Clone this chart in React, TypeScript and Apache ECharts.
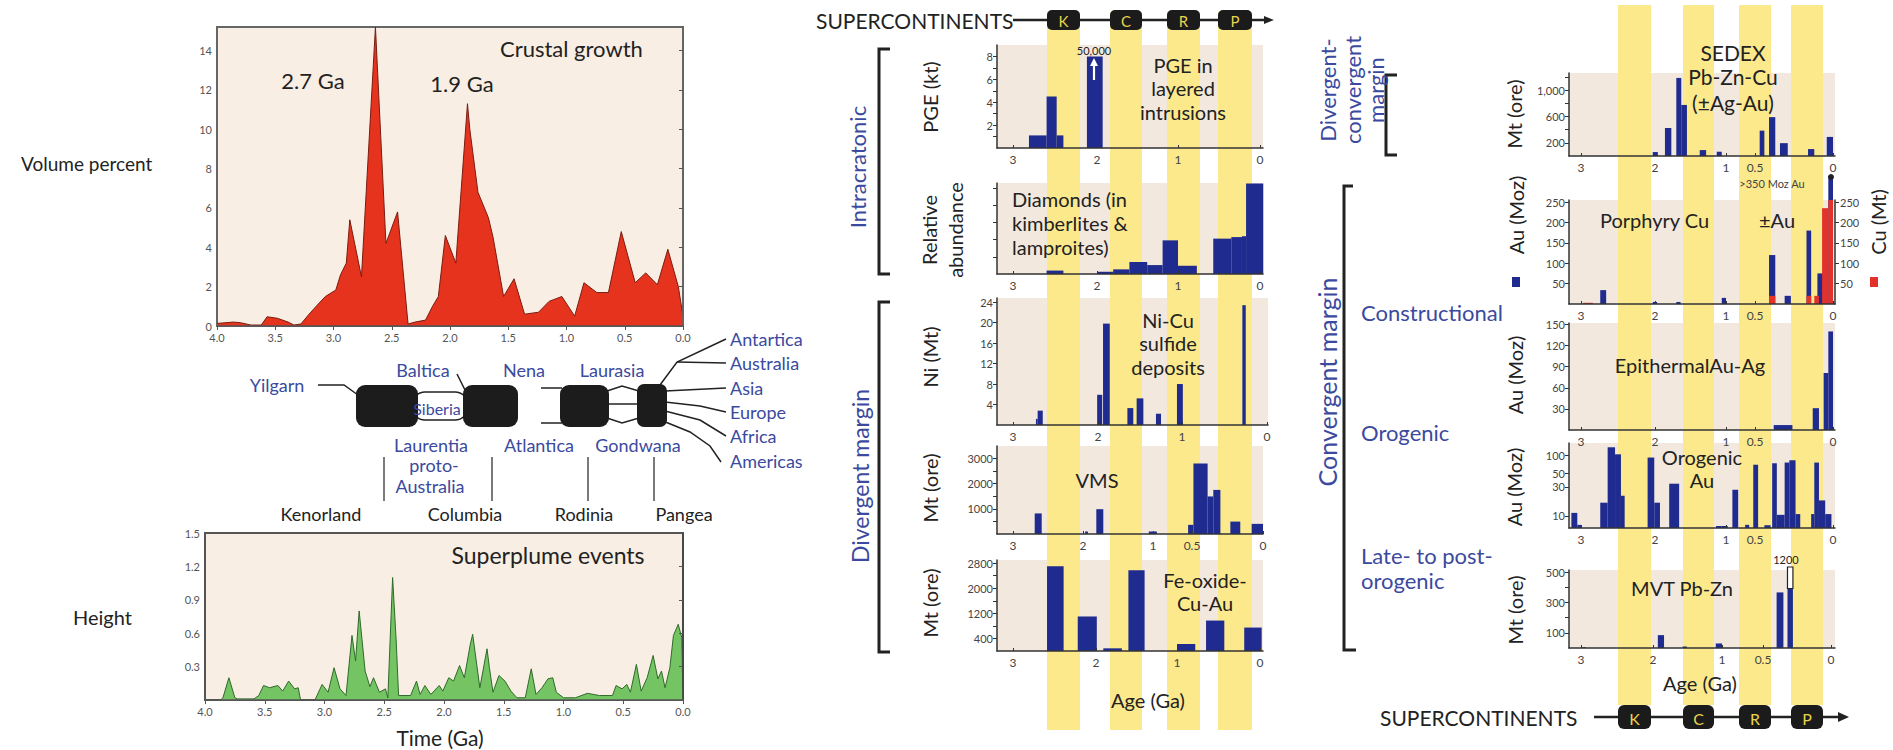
import React, { useEffect, useRef } from "react";
import * as echarts from "echarts";

const W = 1893;
const H = 750;
const FONT = "Lato, 'Noto Sans', sans-serif";
const BLUE_TXT = "#3B4A9E";
const BAR = "#1F2B8E";
const CU_RED = "#E2322A";
const PANEL_BG = "#F2E8DE";
const LEFT_BG = "#F8EEE3";
const STRIPE = "#FBE98C";
const INK = "#222";

// ---------------- DATA ----------------
// Crustal growth: volume percent vs age (Ga)
const crustAge = [4.0, 3.86, 3.8, 3.71, 3.62, 3.57, 3.48, 3.39, 3.34, 3.28, 3.21, 3.14, 3.07, 2.98, 2.94, 2.89, 2.86, 2.76, 2.64, 2.55, 2.45, 2.36, 2.3, 2.21, 2.15, 2.1, 2.04, 1.95, 1.85, 1.83, 1.76, 1.67, 1.63, 1.54, 1.45, 1.36, 1.24, 1.15, 1.04, 0.93, 0.85, 0.74, 0.64, 0.53, 0.41, 0.32, 0.22, 0.13, 0.04, 0.0];
const crustVolume = [0.13, 0.2, 0.17, 0.05, 0.05, 0.47, 0.39, 0.2, 0.05, 0.1, 0.6, 1.06, 1.5, 1.83, 2.6, 3.2, 5.4, 2.5, 15.2, 4.2, 5.8, 0.1, 0.2, 0.3, 1.0, 1.5, 4.6, 3.2, 11.3, 10.0, 6.8, 5.5, 4.5, 1.5, 2.4, 0.6, 0.7, 1.25, 1.5, 0.5, 2.2, 1.7, 1.7, 4.8, 2.2, 2.7, 2.1, 3.9, 2.0, 0.5];

// Superplume events: height vs age (Ga)
const plumeAge = [4.0, 3.87, 3.85, 3.8, 3.75, 3.73, 3.59, 3.55, 3.51, 3.46, 3.39, 3.35, 3.3, 3.25, 3.22, 3.2, 3.08, 3.02, 2.97, 2.92, 2.87, 2.82, 2.77, 2.74, 2.71, 2.66, 2.62, 2.59, 2.54, 2.49, 2.47, 2.43, 2.4, 2.38, 2.28, 2.23, 2.2, 2.16, 2.11, 2.04, 2.01, 1.96, 1.92, 1.87, 1.83, 1.78, 1.76, 1.73, 1.7, 1.64, 1.62, 1.59, 1.54, 1.49, 1.44, 1.39, 1.32, 1.27, 1.23, 1.18, 1.13, 1.09, 1.06, 1.0, 0.9, 0.8, 0.7, 0.59, 0.56, 0.51, 0.47, 0.44, 0.39, 0.35, 0.3, 0.25, 0.21, 0.18, 0.15, 0.11, 0.08, 0.04, 0.01, 0.0];
const plumeHeight = [0, 0, 0.02, 0.2, 0.02, 0.01, 0.01, 0.04, 0.13, 0.11, 0.13, 0.08, 0.17, 0.1, 0.11, 0, 0, 0.14, 0.07, 0.29, 0.1, 0.04, 0.58, 0.35, 0.8, 0.26, 0.12, 0.2, 0.07, 0.1, 0.02, 1.1, 0.53, 0.04, 0.04, 0.17, 0.05, 0.13, 0.05, 0.13, 0.08, 0.2, 0.17, 0.31, 0.2, 0.5, 0.59, 0.35, 0.11, 0.46, 0.29, 0.07, 0.22, 0.17, 0.08, 0.02, 0.02, 0.28, 0.05, 0.11, 0.19, 0.2, 0.07, 0.02, 0.02, 0.06, 0.04, 0.04, 0.13, 0.1, 0.14, 0.07, 0.32, 0.08, 0.2, 0.4, 0.19, 0.26, 0.11, 0.29, 0.58, 0.68, 0.56, 0];

// Deposit histograms: [older age, younger age, value] (Ga)
const pgeBars = [[2.81, 2.6, 1.1], [2.6, 2.48, 4.5], [2.48, 2.4, 1.1], [2.12, 1.93, 8.0]];
const diamondBars = [[2.6, 2.4, 0.2], [2.0, 1.8, 0.13], [1.8, 1.6, 0.27], [1.6, 1.38, 0.7], [1.38, 1.19, 0.52], [1.19, 1.0, 1.96], [1.0, 0.77, 0.48], [0.57, 0.35, 2.06], [0.35, 0.22, 2.15], [0.22, 0.17, 2.2], [0.17, -0.04, 5.27]];
const niBars = [[2.73, 2.71, 1.2], [2.71, 2.65, 2.8], [2.01, 1.95, 5.9], [1.94, 1.86, 19.8], [1.65, 1.58, 3.3], [1.54, 1.46, 5.2], [1.31, 1.25, 2.2], [1.06, 0.99, 8.0], [0.29, 0.25, 23.4]];
const vmsBars = [[2.69, 2.59, 818], [1.97, 1.93, 100], [1.81, 1.71, 987], [1.06, 0.95, 100], [0.55, 0.49, 364], [0.49, 0.39, 2806], [0.39, 0.35, 1494], [0.35, 0.3, 1754], [0.23, 0.16, 494], [0.08, 0.0, 403]];
const feBars = [[2.59, 2.39, 2700], [2.22, 1.99, 1100], [1.91, 1.68, 85], [1.6, 1.4, 2570], [1.0, 0.78, 224], [0.65, 0.43, 970], [0.19, -0.02, 747]];
const sedexBars = [[2.03, 1.96, 60], [1.86, 1.77, 425], [1.7, 1.63, 1185], [1.63, 1.55, 775], [1.37, 1.28, 90], [1.13, 1.06, 65], [0.47, 0.44, 385], [0.41, 0.37, 590], [0.34, 0.29, 195], [0.16, 0.12, 105], [0.04, 0.0, 290]];
const porphyryAuBars = [[2.74, 2.66, 34], [2.03, 1.97, 5], [1.7, 1.64, 5], [1.06, 1.0, 15], [0.41, 0.37, 120], [0.31, 0.27, 20], [0.17, 0.14, 180], [0.1, 0.06, 75], [0.06, 0.03, 95], [0.03, 0.0, 400]];
const porphyryCuBars = [[2.97, 2.84, 3], [0.41, 0.37, 20], [0.17, 0.14, 20], [0.12, 0.09, 20], [0.07, 0.03, 235], [0.03, 0.0, 262]];
const epithermalBars = [[0.38, 0.26, 7], [0.13, 0.09, 31], [0.06, 0.03, 81], [0.03, 0.0, 140]];
const orogenicBars = [[3.13, 3.05, 11.2], [3.05, 3.0, 7.1], [2.74, 2.64, 16.5], [2.64, 2.54, 136], [2.54, 2.46, 104], [2.46, 2.41, 21.5], [2.1, 2.01, 92], [2.01, 1.93, 16.5], [1.8, 1.66, 34], [1.14, 1.06, 6.8], [1.06, 0.97, 6.8], [0.89, 0.79, 27], [0.67, 0.6, 7.1], [0.53, 0.48, 70], [0.44, 0.4, 7], [0.39, 0.36, 74], [0.36, 0.31, 10.4], [0.31, 0.28, 76], [0.28, 0.24, 83], [0.24, 0.21, 10.7], [0.14, 0.12, 10.7], [0.12, 0.09, 76], [0.09, 0.05, 18], [0.05, 0.01, 10.7]];
const mvtBars = [[3.0, 2.93, 5], [1.93, 1.84, 85], [1.57, 1.51, 10], [1.09, 1.0, 30], [0.4, 0.35, 367], [0.32, 0.28, 393]];
const mvtOffscale = [[0.32, 0.28, 393, 1200]];

// Axis tick labels
const leftAgeTicks = [4.0, 3.5, 3.0, 2.5, 2.0, 1.5, 1.0, 0.5, 0.0];
const crustTicks = [0, 2, 4, 6, 8, 10, 12, 14];
const plumeTicks = [0.3, 0.6, 0.9, 1.2, 1.5];

// ---------------- LAYOUT (axis calibration: age -> pixel) ----------------
const kMid = [[3, 1013], [2, 1097], [1, 1178], [0, 1260]];
const kNi = [[3, 1013], [2, 1098], [1, 1182], [0, 1267]];
const kVms = [[3, 1013], [2, 1083], [1, 1153], [0.5, 1192], [0, 1263]];
const kFe = [[3, 1013], [2, 1096], [1, 1177], [0, 1260]];
const kRight = [[3, 1581], [2, 1655], [1, 1726], [0.5, 1755], [0, 1833]];
const kMvt = [[3, 1581], [2, 1653], [1, 1722], [0.5, 1763], [0, 1831]];

function ageToPx(knots: number[][], age: number) {
  let i = 0;
  while (i < knots.length - 2 && age < knots[i + 1][0]) i++;
  const [a0, p0] = knots[i];
  const [a1, p1] = knots[i + 1];
  return p0 + ((age - a0) * (p1 - p0)) / (a1 - a0);
}

type Panel = {
  key: string; left: number; right: number; top: number; bottom: number; knots: number[][];
  yMin: number; yMax: number; labels: number[]; ticks: number[]; log?: boolean;
};

const panels: Panel[] = [
  { key: "pge", left: 997, right: 1263, top: 45, bottom: 148, knots: kMid, yMin: 0, yMax: 9, labels: [2, 4, 6, 8], ticks: [1, 2, 3, 4, 5, 6, 7, 8] },
  { key: "dia", left: 997, right: 1263, top: 183, bottom: 274, knots: kMid, yMin: 0, yMax: 5.3, labels: [], ticks: [1, 2, 3, 4, 5] },
  { key: "ni", left: 997, right: 1268, top: 298, bottom: 425, knots: kNi, yMin: 0, yMax: 24.8, labels: [4, 8, 12, 16, 20, 24], ticks: [4, 8, 12, 16, 20, 24] },
  { key: "vms", left: 997, right: 1263, top: 446, bottom: 534, knots: kVms, yMin: 0, yMax: 3500, labels: [1000, 2000, 3000], ticks: [500, 1000, 1500, 2000, 2500, 3000] },
  { key: "fe", left: 997, right: 1263, top: 560, bottom: 651, knots: kFe, yMin: 0, yMax: 2900, labels: [400, 1200, 2000, 2800], ticks: [400, 800, 1200, 1600, 2000, 2400, 2800] },
  { key: "sedex", left: 1569, right: 1835, top: 73, bottom: 156, knots: kRight, yMin: 0, yMax: 1260, labels: [200, 600, 1000], ticks: [200, 400, 600, 800, 1000, 1200] },
  { key: "por", left: 1569, right: 1835, top: 200, bottom: 304, knots: kRight, yMin: 0, yMax: 255, labels: [50, 100, 150, 200, 250], ticks: [50, 100, 150, 200, 250] },
  { key: "epi", left: 1569, right: 1835, top: 323, bottom: 430, knots: kRight, yMin: 0, yMax: 152, labels: [30, 60, 90, 120, 150], ticks: [30, 60, 90, 120, 150] },
  { key: "oro", left: 1569, right: 1835, top: 443, bottom: 528, knots: kRight, yMin: 6.3, yMax: 160, labels: [10, 30, 50, 100, 150], ticks: [10, 30, 50, 100, 150], log: true },
  { key: "mvt", left: 1569, right: 1835, top: 570, bottom: 648, knots: kMvt, yMin: 0, yMax: 515, labels: [100, 300, 500], ticks: [100, 200, 300, 400, 500] },
];
const P: Record<string, number> = {};
panels.forEach((p, i) => (P[p.key] = i + 2));

// ---------------- HELPERS ----------------
function T(x: number, y: number, text: string, o: any = {}) {
  const align = o.align ?? "center";
  return {
    type: "text", x, y, rotation: o.rot ?? 0, z: o.z ?? 30, silent: true,
    style: {
      text, fill: o.color ?? INK, fontSize: o.size ?? 16, fontFamily: FONT, fontWeight: o.weight ?? "normal",
      align, verticalAlign: "middle", textAlign: align, textVerticalAlign: "middle",
    },
  };
}
function L(points: number[][], o: any = {}) {
  return { type: "polyline", z: o.z ?? 25, silent: true, shape: { points }, style: { stroke: o.color ?? INK, lineWidth: o.w ?? 1.5, fill: null } };
}
function R(x: number, y: number, w: number, h: number, fill: string, o: any = {}) {
  return { type: "rect", z: o.z ?? 25, silent: true, shape: { x, y, width: w, height: h, r: o.r ?? 0 }, style: { fill, stroke: o.stroke ?? null, lineWidth: o.lw ?? 0 } };
}

function barSeries(panelKey: string, bars: number[][], fill: string, o: any = {}) {
  const idx = P[panelKey];
  const p = panels[idx - 2];
  const data = bars.map((b) => {
    const lo = b.length > 3 ? b[2] : p.yMin;
    const hi = b.length > 3 ? b[3] : b[2];
    return [ageToPx(p.knots, b[0]), ageToPx(p.knots, b[1]), lo, hi];
  });
  return {
    type: "custom", xAxisIndex: idx, yAxisIndex: o.yAxisIndex ?? idx, z: o.z ?? 4, silent: true, data,
    renderItem: (params: any, api: any) => {
      const p0 = api.coord([api.value(0), api.value(2)]);
      const p1 = api.coord([api.value(1), api.value(3)]);
      const cs = params.coordSys;
      const top = Math.max(p1[1], cs.y - (o.over ?? 0));
      return {
        type: "rect",
        shape: { x: p0[0], y: top, width: Math.max(p1[0] - p0[0], 1.5), height: Math.max(p0[1] - top, 0) },
        style: { fill, stroke: o.stroke ?? null, lineWidth: o.lw ?? 0 },
      };
    },
  };
}

function knotLabel(knots: number[][], v: number) {
  const k = knots.find((kk) => Math.abs(kk[1] - v) < 0.6);
  return k ? String(k[0]) : "";
}

// ---------------- OPTION ----------------
function buildOption() {
  const grid: any[] = [
    { left: 217, top: 27, width: 466, height: 299, show: true, backgroundColor: LEFT_BG, borderColor: "#666", borderWidth: 2 },
    { left: 205, top: 533, width: 478, height: 167, show: true, backgroundColor: LEFT_BG, borderColor: "#555", borderWidth: 2 },
    ...panels.map((p) => ({ left: p.left, top: p.top, width: p.right - p.left, height: p.bottom - p.top, show: true, backgroundColor: PANEL_BG, borderWidth: 0 })),
  ];

  const leftX = (gi: number) => ({
    type: "value", gridIndex: gi, inverse: true, min: 0, max: 4, interval: 0.5, z: 6,
    axisLine: { lineStyle: { color: "#555", width: 1.5 } },
    axisTick: { length: 4, lineStyle: { color: "#555" } },
    axisLabel: { color: "#555", fontSize: 11, fontFamily: FONT, margin: 6, formatter: (v: number) => (leftAgeTicks.some((t) => Math.abs(t - v) < 1e-6) ? v.toFixed(1) : "") },
    splitLine: { show: false },
  });

  const xAxis: any[] = [
    leftX(0),
    leftX(1),
    ...panels.map((p, i) => ({
      type: "value", gridIndex: i + 2, min: p.left, max: p.right, z: 6,
      axisLine: { onZero: false, lineStyle: { color: "#333", width: 1.5 } },
      axisTick: { inside: true, length: 3, customValues: p.knots.map((k) => k[1]), lineStyle: { color: "#333" } },
      axisLabel: { color: "#444", fontSize: 12, fontFamily: FONT, margin: 5, customValues: p.knots.map((k) => k[1]), formatter: (v: number) => knotLabel(p.knots, v) },
      splitLine: { show: false },
    })),
  ];

  const yAxis: any[] = [
    {
      type: "value", gridIndex: 0, min: 0, max: 15.2, z: 6,
      axisLine: { show: true, lineStyle: { color: "#666", width: 1.5 } },
      axisTick: { show: true, length: 4, customValues: crustTicks, lineStyle: { color: "#555" } },
      axisLabel: { color: "#555", fontSize: 11, fontFamily: FONT, margin: 5, customValues: crustTicks },
      splitLine: { show: false },
    },
    {
      type: "value", gridIndex: 1, min: 0, max: 1.5, z: 6,
      axisLine: { show: true, lineStyle: { color: "#444", width: 1.5 } },
      axisTick: { show: true, length: 4, customValues: [0, ...plumeTicks], lineStyle: { color: "#555" } },
      axisLabel: { color: "#555", fontSize: 11, fontFamily: FONT, margin: 5, customValues: plumeTicks, formatter: (v: number) => v.toFixed(1) },
      splitLine: { show: false },
    },
    ...panels.map((p, i) => ({
      type: p.log ? "log" : "value", logBase: 10, gridIndex: i + 2, min: p.yMin, max: p.yMax, z: 6,
      axisLine: { show: true, onZero: false, lineStyle: { color: "#333", width: 1.5 } },
      axisTick: { show: true, length: 4, customValues: p.ticks, lineStyle: { color: "#333" } },
      axisLabel: {
        show: p.labels.length > 0, color: "#444", fontSize: 11, fontFamily: FONT, margin: 4, customValues: p.labels,
        formatter: (v: number) => (p.key === "sedex" && v === 1000 ? "1,000" : String(v)),
      },
      splitLine: { show: false },
    })),
    {
      type: "value", gridIndex: P.por, position: "right", min: 0, max: 255, z: 6,
      axisLine: { show: true, onZero: false, lineStyle: { color: "#333", width: 1.5 } },
      axisTick: { show: true, length: 4, customValues: [50, 100, 150, 200, 250], lineStyle: { color: "#333" } },
      axisLabel: { color: "#444", fontSize: 11, fontFamily: FONT, margin: 5, customValues: [50, 100, 150, 200, 250] },
      splitLine: { show: false },
    },
  ];
  const cuAxis = yAxis.length - 1;

  const series: any[] = [
    {
      type: "line", xAxisIndex: 0, yAxisIndex: 0, data: crustAge.map((a, i) => [a, crustVolume[i]]),
      showSymbol: false, symbol: "none", z: 3, lineStyle: { color: "#7a1c10", width: 1 }, areaStyle: { color: "#E6331E", opacity: 1 },
    },
    {
      type: "line", xAxisIndex: 1, yAxisIndex: 1, data: plumeAge.map((a, i) => [a, plumeHeight[i]]),
      showSymbol: false, symbol: "none", z: 3, lineStyle: { color: "#2F6A2B", width: 1 }, areaStyle: { color: "#74C464", opacity: 1 },
    },
    barSeries("pge", pgeBars, BAR),
    barSeries("dia", diamondBars, BAR),
    barSeries("ni", niBars, BAR),
    barSeries("vms", vmsBars, BAR),
    barSeries("fe", feBars, BAR),
    barSeries("sedex", sedexBars, BAR),
    barSeries("por", porphyryAuBars, BAR, { over: 24 }),
    barSeries("por", porphyryCuBars, CU_RED, { yAxisIndex: cuAxis, z: 5 }),
    barSeries("epi", epithermalBars, BAR),
    barSeries("oro", orogenicBars, BAR),
    barSeries("mvt", mvtBars, BAR),
    barSeries("mvt", mvtOffscale, "#ffffff", { over: 3, stroke: INK, lw: 1.2 }),
  ];

  // ---------- decorations ----------
  const g: any[] = [];
  // yellow supercontinent stripes
  const midStripes = [[1047, 33], [1110, 32], [1167, 33], [1218, 34]];
  const rightStripes = [[1618, 33], [1683, 31], [1739, 32], [1791, 32]];
  midStripes.forEach(([x, w]) => g.push(R(x, 12, w, 718, STRIPE, { z: 1 })));
  rightStripes.forEach(([x, w]) => g.push(R(x, 5, w, 700, STRIPE, { z: 1 })));

  // supercontinent bars
  const scLetters = ["K", "C", "R", "P"];
  g.push(T(816, 20, "SUPERCONTINENTS", { align: "left", size: 21 }));
  g.push(L([[1013, 20], [1266, 20]], { w: 2.5, z: 26 }));
  g.push({ type: "polygon", z: 26, silent: true, shape: { points: [[1264, 16], [1274, 20], [1264, 24]] }, style: { fill: INK } });
  midStripes.forEach(([x, w], i) => {
    g.push(R(x, 10, w, 20, "#1b1b1b", { r: 5, z: 27 }));
    g.push(T(x + w / 2, 20.5, scLetters[i], { color: "#E9D34C", size: 15, z: 28 }));
  });
  g.push(T(1380, 717, "SUPERCONTINENTS", { align: "left", size: 21 }));
  g.push(L([[1594, 717], [1840, 717]], { w: 2.5, z: 26 }));
  g.push({ type: "polygon", z: 26, silent: true, shape: { points: [[1838, 712], [1849, 717], [1838, 722]] }, style: { fill: INK } });
  rightStripes.forEach(([x, w], i) => {
    g.push(R(x, 705, w, 24, "#1b1b1b", { r: 6, z: 27 }));
    g.push(T(x + w / 2, 718, scLetters[i], { color: "#E9D34C", size: 16, z: 28 }));
  });

  // left top chart texts
  g.push(T(21, 163, "Volume percent", { align: "left", size: 19 }));
  g.push(T(500, 48, "Crustal growth", { align: "left", size: 22 }));
  g.push(T(313, 80, "2.7 Ga", { size: 22 }));
  g.push(T(462, 83, "1.9 Ga", { size: 22 }));

  // supercontinent assembly diagram
  g.push(R(412, 392, 56, 28, "#ffffff", { r: 13, stroke: INK, lw: 1.5, z: 24 }));
  g.push(R(356, 385, 62, 42, "#1c1c1c", { r: 9, z: 26 }));
  g.push(R(463, 385, 55, 42, "#1c1c1c", { r: 9, z: 26 }));
  g.push(R(560, 385, 49, 42, "#1c1c1c", { r: 9, z: 26 }));
  g.push(R(637, 384, 30, 43, "#1c1c1c", { r: 7, z: 26 }));
  g.push(L([[318, 385], [344, 385], [358, 395]]));
  g.push(L([[457, 374], [461, 382], [465, 390]]));
  g.push(L([[541, 388], [562, 388]]));
  g.push(L([[541, 423], [562, 423]]));
  g.push(L([[607, 391], [622, 386], [639, 391]]));
  g.push(L([[607, 404], [639, 404]]));
  g.push(L([[607, 418], [622, 423], [639, 418]]));
  g.push(L([[660, 385], [677, 362], [726, 339]]));
  g.push(L([[677, 362], [726, 363]]));
  g.push(L([[665, 391], [726, 388]]));
  g.push(L([[665, 402], [700, 406], [726, 412]]));
  g.push(L([[665, 411], [700, 420], [726, 436]]));
  g.push(L([[663, 421], [690, 432], [710, 446], [721, 462]]));
  [384, 492, 588, 654].forEach((x) => g.push(L([[x, 457], [x, 501]], { w: 1.2 })));
  const bt = { color: BLUE_TXT, size: 18 };
  g.push(T(277, 385, "Yilgarn", bt));
  g.push(T(423, 370, "Baltica", bt));
  g.push(T(524, 370, "Nena", bt));
  g.push(T(612, 370, "Laurasia", bt));
  g.push(T(437, 408, "Siberia", { color: BLUE_TXT, size: 16, z: 27 }));
  g.push(T(431, 445, "Laurentia", bt));
  g.push(T(434, 465, "proto-", bt));
  g.push(T(430, 486, "Australia", bt));
  g.push(T(539, 445, "Atlantica", bt));
  g.push(T(638, 445, "Gondwana", bt));
  ["Antartica", "Australia", "Asia", "Europe", "Africa", "Americas"].forEach((s, i) =>
    g.push(T(730, 339 + i * 24.3, s, { color: BLUE_TXT, size: 18, align: "left" }))
  );
  g.push(T(321, 514, "Kenorland", { size: 18 }));
  g.push(T(465, 514, "Columbia", { size: 18 }));
  g.push(T(584, 514, "Rodinia", { size: 18 }));
  g.push(T(684, 514, "Pangea", { size: 18 }));

  // left bottom chart texts
  g.push(T(548, 555, "Superplume events", { size: 23 }));
  g.push(T(73, 617, "Height", { align: "left", size: 20 }));
  g.push(T(440, 737, "Time (Ga)", { size: 21 }));

  // middle column texts
  const rot = Math.PI / 2;
  g.push(T(857, 167, "Intracratonic", { color: BLUE_TXT, size: 22, rot }));
  g.push(L([[890, 49], [879, 49], [879, 274], [890, 274]], { w: 3 }));
  g.push(T(860, 476, "Divergent margin", { color: BLUE_TXT, size: 23, rot }));
  g.push(L([[890, 302], [879, 302], [879, 652], [890, 652]], { w: 3 }));

  g.push(T(930, 97, "PGE (kt)", { size: 20, rot }));
  g.push(T(1183, 65, "PGE in", { size: 20 }));
  g.push(T(1183, 88, "layered", { size: 20 }));
  g.push(T(1183, 112, "intrusions", { size: 20 }));
  g.push(T(1094, 50, "50,000", { size: 11 }));
  g.push(L([[1094, 80], [1094, 64]], { color: "#ffffff", w: 2.2, z: 30 }));
  g.push({ type: "polygon", z: 30, silent: true, shape: { points: [[1090, 66], [1098, 66], [1094, 58]] }, style: { fill: "#ffffff" } });

  g.push(T(929, 230, "Relative", { size: 20, rot }));
  g.push(T(955, 230, "abundance", { size: 20, rot }));
  g.push(T(1012, 199, "Diamonds (in", { size: 20, align: "left" }));
  g.push(T(1012, 223, "kimberlites &", { size: 20, align: "left" }));
  g.push(T(1012, 247, "lamproites)", { size: 20, align: "left" }));

  g.push(T(930, 357, "Ni (Mt)", { size: 20, rot }));
  g.push(T(1168, 320, "Ni-Cu", { size: 20 }));
  g.push(T(1168, 343, "sulfide", { size: 20 }));
  g.push(T(1168, 367, "deposits", { size: 20 }));

  g.push(T(930, 488, "Mt (ore)", { size: 20, rot }));
  g.push(T(1097, 480, "VMS", { size: 20 }));

  g.push(T(930, 603, "Mt (ore)", { size: 20, rot }));
  g.push(T(1205, 580, "Fe-oxide-", { size: 20 }));
  g.push(T(1205, 603, "Cu-Au", { size: 20 }));
  g.push(T(1148, 700, "Age (Ga)", { size: 20 }));

  // right column texts
  g.push(T(1327, 90, "Divergent-", { color: BLUE_TXT, size: 22, rot }));
  g.push(T(1352, 90, "convergent", { color: BLUE_TXT, size: 22, rot }));
  g.push(T(1375, 90, "margin", { color: BLUE_TXT, size: 22, rot }));
  g.push(L([[1397, 75], [1386, 75], [1386, 155], [1397, 155]], { w: 3 }));
  g.push(T(1327, 382, "Convergent margin", { color: BLUE_TXT, size: 25, rot }));
  g.push(L([[1353, 186], [1344, 186], [1344, 650], [1356, 650]], { w: 3 }));
  g.push(T(1361, 312, "Constructional", { color: BLUE_TXT, size: 22, align: "left" }));
  g.push(T(1361, 432, "Orogenic", { color: BLUE_TXT, size: 22, align: "left" }));
  g.push(T(1361, 555, "Late- to post-", { color: BLUE_TXT, size: 22, align: "left" }));
  g.push(T(1361, 580, "orogenic", { color: BLUE_TXT, size: 22, align: "left" }));

  g.push(T(1514, 114, "Mt (ore)", { size: 20, rot }));
  g.push(T(1733, 52, "SEDEX", { size: 21 }));
  g.push(T(1733, 76, "Pb-Zn-Cu", { size: 21 }));
  g.push(T(1733, 102, "(±Ag-Au)", { size: 21 }));

  g.push(T(1516, 215, "Au (Moz)", { size: 20, rot }));
  g.push(R(1512, 277, 8, 10, BAR));
  g.push(T(1878, 222, "Cu (Mt)", { size: 20, rot }));
  g.push(R(1870, 277, 8, 10, CU_RED));
  g.push(T(1600, 220, "Porphyry Cu", { size: 20, align: "left" }));
  g.push(T(1759, 220, "±Au", { size: 20, align: "left" }));
  g.push(T(1772, 183, ">350 Moz Au", { size: 11, color: "#444" }));
  g.push({ type: "circle", z: 30, silent: true, shape: { cx: 1831, cy: 177, r: 3 }, style: { fill: INK } });

  g.push(T(1515, 375, "Au (Moz)", { size: 20, rot }));
  g.push(T(1690, 365, "EpithermalAu-Ag", { size: 20 }));

  g.push(T(1514, 487, "Au (Moz)", { size: 20, rot }));
  g.push(T(1702, 457, "Orogenic", { size: 20 }));
  g.push(T(1702, 480, "Au", { size: 20 }));

  g.push(T(1515, 610, "Mt (ore)", { size: 20, rot }));
  g.push(T(1682, 588, "MVT Pb-Zn", { size: 20 }));
  g.push(T(1786, 559, "1200", { size: 11 }));
  g.push(T(1700, 683, "Age (Ga)", { size: 20 }));

  return {
    animation: false,
    backgroundColor: "#ffffff",
    textStyle: { fontFamily: FONT },
    grid,
    xAxis,
    yAxis,
    series,
    graphic: { elements: g },
  };
}

export default function App() {
  const ref = useRef<HTMLDivElement>(null);
  useEffect(() => {
    document.body.style.margin = "0";
    const chart = echarts.init(ref.current as HTMLDivElement, null, { renderer: "svg", width: W, height: H });
    chart.setOption(buildOption() as any);
    return () => chart.dispose();
  }, []);
  return <div ref={ref} style={{ position: "fixed", left: 0, top: 0, width: W, height: H, background: "#fff" }} />;
}
